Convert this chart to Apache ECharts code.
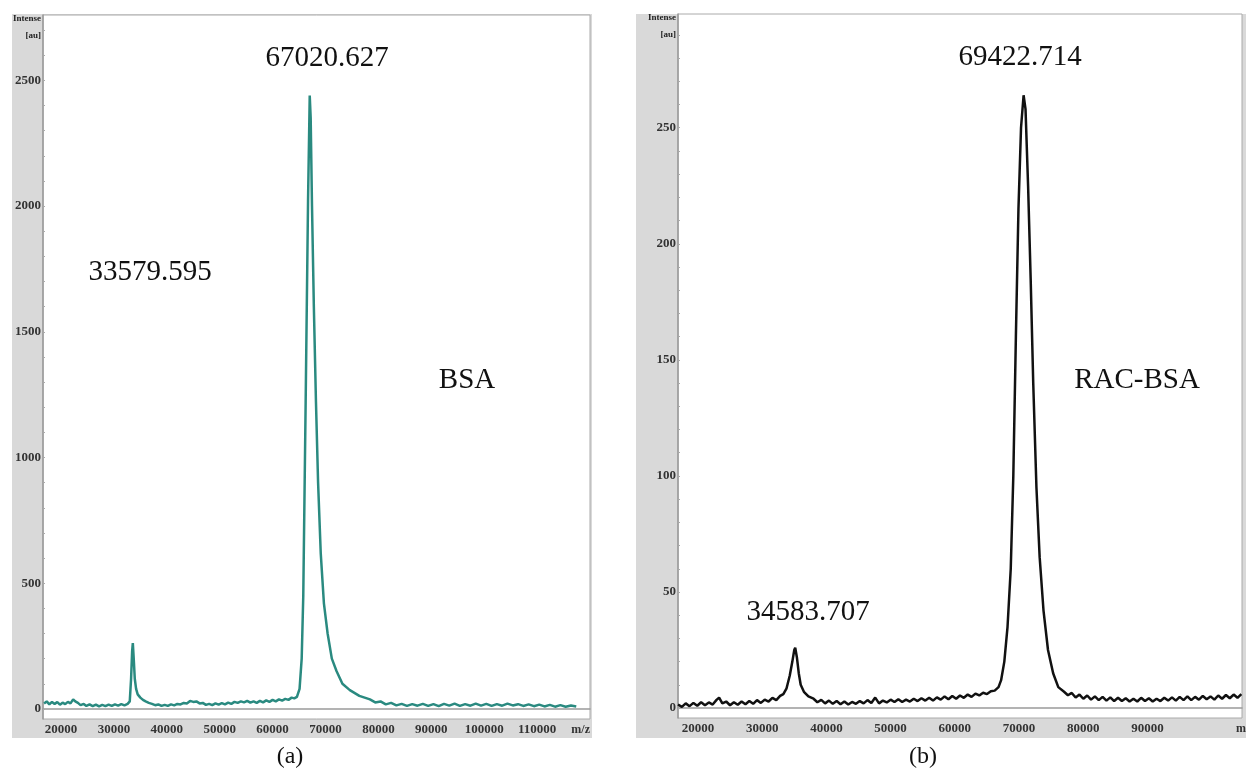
<!DOCTYPE html>
<html>
<head>
<meta charset="utf-8">
<script src="https://cdn.jsdelivr.net/npm/echarts@6/dist/echarts.min.js"></script>
<style>
  html, body { margin: 0; padding: 0; background: #fff; }
  #main { width: 1246px; height: 775px; }
</style>
</head>
<body>
<div id="main"></div>
<script>
// (a) BSA spectrum, m/z and intensity [au]
var bsaMz = [16800, 17300, 17800, 18300, 18800, 19300, 19800, 20300, 20800, 21300, 21800, 22300, 22700, 23200, 23700,
  24300, 24800, 25400, 26000, 26600, 27200, 27800, 28400, 29000, 29600, 30200, 30800, 31400, 32000, 32600,
  33000, 33250, 33450, 33580, 33750, 33950, 34200, 34500, 35000, 35500, 36000, 36600, 37200, 37800, 38400,
  39000, 39600, 40200, 40800, 41400, 42000, 42600, 43200, 43800, 44400, 45000, 45600, 46200, 46800, 47400,
  48000, 48600, 49200, 49800, 50400, 51000, 51600, 52200, 52800, 53400, 54000, 54600, 55200, 55800, 56400,
  57000, 57600, 58200, 58800, 59400, 60000, 60600, 61200, 61800, 62400, 63000, 63600, 64100, 64600, 65100,
  65500, 65800, 66250, 66700, 67020, 67200, 67450, 67800, 68200, 68600, 69100, 69700, 70400, 71200, 72100,
  73200, 74600, 76400, 78400, 79400, 80400, 81400, 82400, 83400, 84400, 85400, 86400, 87400, 88400, 89400,
  90400, 91400, 92400, 93400, 94400, 95400, 96400, 97400, 98400, 99400, 100400, 101400, 102400, 103400, 104400,
  105400, 106400, 107400, 108400, 109400, 110400, 111400, 112400, 113400, 114400, 115400, 116400, 117400];
var bsaInt = [22, 30, 18, 28, 20, 27, 17, 25, 19, 28, 22, 38, 30, 24, 15,
  20, 12, 18, 11, 17, 10, 16, 11, 17, 12, 18, 13, 19, 14, 20,
  30, 120, 230, 262, 200, 120, 80, 58, 45, 36, 30, 24, 20, 15, 18,
  12, 16, 12, 18, 14, 20, 18, 24, 22, 32, 28, 30, 22, 24, 16,
  20, 15, 22, 17, 23, 18, 25, 20, 28, 24, 30, 26, 32, 25, 30,
  24, 32, 26, 34, 28, 36, 30, 38, 33, 40, 36, 45, 42, 48, 80,
  200, 450, 1220, 2020, 2440, 2350, 2000, 1600, 1220, 900, 620, 420, 300, 200, 150,
  100, 75, 52, 38, 26, 30, 18, 24, 14, 20, 12, 19, 13, 20, 12,
  19, 11, 20, 13, 21, 12, 19, 13, 21, 13, 20, 12, 19, 13, 21,
  14, 19, 12, 18, 11, 17, 10, 16, 9, 15, 9, 14, 10];

// (b) RAC-BSA spectrum
var racMz = [16900, 17500, 18100, 18700, 19300, 19900, 20500, 21100, 21700, 22300, 22900, 23300, 23800, 24400, 25000,
  25600, 26200, 26800, 27400, 28000, 28600, 29200, 29800, 30400, 31000, 31600, 32200, 32800, 33300, 33800,
  34300, 34700, 35000, 35150, 35400, 35700, 36000, 36500, 37200, 38000, 38600, 39200, 39800, 40400, 41000,
  41600, 42200, 42800, 43400, 44000, 44600, 45200, 45800, 46400, 47000, 47600, 48200, 48800, 49400, 50000,
  50600, 51200, 51800, 52400, 53000, 53600, 54200, 54800, 55400, 56000, 56600, 57200, 57800, 58400, 59000,
  59600, 60200, 60800, 61400, 62000, 62600, 63200, 63800, 64400, 65000, 65600, 66200, 66800, 67200, 67700,
  68200, 68700, 69100, 69500, 69900, 70300, 70700, 71000, 71400, 71800, 72200, 72700, 73200, 73800, 74500,
  75300, 76100, 77000, 77600, 78200, 78800, 79400, 80000, 80600, 81200, 81800, 82400, 83000, 83600, 84200,
  84800, 85400, 86000, 86600, 87200, 87800, 88400, 89000, 89600, 90200, 90800, 91400, 92000, 92600, 93200,
  93800, 94400, 95000, 95600, 96200, 96800, 97400, 98000, 98600, 99200, 99800, 100400, 101000, 101600, 102200,
  102800, 103400, 104000, 104600];
var racInt = [1.5, 0.5, 2, 0.8, 2.2, 1, 2.5, 1.2, 2.4, 1.5, 3.5, 4.5, 2, 2.8, 1.2,
  2.5, 1.4, 2.8, 1.6, 3, 1.8, 3.4, 2.2, 3.6, 2.8, 4.4, 3.4, 5.2, 6, 8.5,
  14, 20, 25, 26, 22, 15, 10, 7, 5, 4, 2.5, 3.5, 2, 3.2, 1.8,
  3, 1.6, 2.8, 1.5, 2.6, 1.8, 3, 2, 3.4, 2.2, 4.5, 2, 3.2, 2.4, 3.6,
  2.6, 3.8, 2.6, 3.6, 2.8, 4, 3, 4.2, 3.2, 4.4, 3.2, 4.6, 3.6, 5, 3.8,
  5.2, 4, 5.4, 4.4, 5.8, 4.8, 6.2, 5.4, 6.6, 6, 7.2, 7.5, 9, 12, 20,
  35, 60, 100, 160, 215, 250, 264, 258, 225, 185, 140, 95, 65, 42, 25,
  15, 9, 7, 5.5, 6.5, 4.5, 5.8, 4, 5.4, 3.6, 5, 3.4, 4.8, 3.2, 4.6,
  3, 4.4, 3, 4.2, 2.8, 4, 2.8, 4.4, 3, 4.2, 2.8, 4, 3, 4.4, 3.2,
  4.6, 3.2, 4.8, 3.4, 5, 3.4, 4.8, 3.6, 5.2, 3.8, 5, 3.6, 5.4, 4, 5.6,
  4.2, 5.8, 4.4, 6];

// tick labels
var leftXLabels = [20000, 30000, 40000, 50000, 60000, 70000, 80000, 90000, 100000, 110000];
var rightXLabels = [20000, 30000, 40000, 50000, 60000, 70000, 80000, 90000];
var leftYLabels = [0, 500, 1000, 1500, 2000, 2500];
var leftYTicks = [0, 100, 200, 300, 400, 500, 600, 700, 800, 900, 1000, 1100, 1200, 1300, 1400, 1500,
  1600, 1700, 1800, 1900, 2000, 2100, 2200, 2300, 2400, 2500, 2600, 2700];
var rightYLabels = [0, 50, 100, 150, 200, 250];
var rightYTicks = [0, 10, 20, 30, 40, 50, 60, 70, 80, 90, 100, 110, 120, 130, 140, 150, 160, 170, 180, 190,
  200, 210, 220, 230, 240, 250, 260, 270, 280, 290];

function zip(a, b) {
  var out = [];
  for (var i = 0; i < a.length; i++) out.push([a[i], b[i]]);
  return out;
}

var serif = 'Liberation Serif';
var gray = '#d9d9d9';
var axisCol = '#9a9a9a';

function plain(v) { return String(v); }

function xAxisOpt(idx, min, max, labels, nameAlign, nameGap) {
  return {
    type: 'value', gridIndex: idx, min: min, max: max,
    name: 'm/z', nameLocation: 'end', nameGap: nameGap,
    nameTextStyle: { fontFamily: serif, fontSize: 12, fontWeight: 'bold', color: '#333',
      align: nameAlign, verticalAlign: 'top', padding: [15, 0, 0, 0] },
    splitLine: { show: false },
    axisLine: { lineStyle: { color: axisCol, width: 1.5 } },
    axisTick: { show: false },
    axisLabel: { customValues: labels, formatter: plain, margin: 4, fontFamily: serif, fontSize: 13, fontWeight: 'bold', color: '#333' }
  };
}

function yAxisOpt(idx, min, max, labels, ticks) {
  return {
    type: 'value', gridIndex: idx, min: min, max: max,
    name: 'Intense\n[au]', nameLocation: 'end', nameGap: 5,
    nameTextStyle: { fontFamily: serif, fontSize: 9, fontWeight: 'bold', color: '#222',
      align: 'right', verticalAlign: 'top', padding: [0, 2, 0, 0], lineHeight: 17 },
    splitLine: { show: false },
    axisLine: { lineStyle: { color: axisCol, width: 1.5 } },
    axisTick: { show: true, customValues: ticks, inside: true, length: 2, lineStyle: { color: '#aaa' } },
    axisLabel: { customValues: labels, formatter: plain, margin: 2, fontFamily: serif, fontSize: 13, fontWeight: 'bold', color: '#333' }
  };
}

function note(text, x, y, size) {
  return { type: 'text', x: x, y: y, z: 10,
    style: { text: text, fill: '#111', font: size + 'px "Liberation Serif"', textAlign: 'center', textVerticalAlign: 'middle' } };
}

var chart = echarts.init(document.getElementById('main'));

var option = {
  backgroundColor: '#fff',
  animation: false,
  graphic: [
    { type: 'rect', z: -10, shape: { x: 12, y: 14, width: 580, height: 724 }, style: { fill: gray } },
    { type: 'rect', z: -10, shape: { x: 636, y: 14, width: 610, height: 724 }, style: { fill: gray } },
    note('67020.627', 327, 58, 29),
    note('33579.595', 150, 272, 29),
    note('BSA', 467, 380, 29),
    note('(a)', 290, 757, 24),
    note('69422.714', 1020, 57, 29),
    note('34583.707', 808, 612, 29),
    note('RAC-BSA', 1137, 380, 29),
    note('(b)', 923, 757, 24)
  ],
  grid: [
    { left: 43, top: 15, width: 547, height: 704, outerBoundsMode: 'none',
      show: true, backgroundColor: '#fff', borderColor: '#aaa', borderWidth: 1 },
    { left: 678, top: 14, width: 564, height: 704, outerBoundsMode: 'none',
      show: true, backgroundColor: '#fff', borderColor: '#aaa', borderWidth: 1 }
  ],
  xAxis: [
    xAxisOpt(0, 16600, 120000, leftXLabels, 'right', 0),
    xAxisOpt(1, 16900, 104700, rightXLabels, 'left', -6)
  ],
  yAxis: [
    yAxisOpt(0, -40, 2760, leftYLabels, leftYTicks),
    yAxisOpt(1, -4.3, 299, rightYLabels, rightYTicks)
  ],
  series: [
    { type: 'line', xAxisIndex: 0, yAxisIndex: 0, data: zip(bsaMz, bsaInt), showSymbol: false,
      lineStyle: { color: '#2a8a80', width: 2.5 }, itemStyle: { color: '#2a8a80' } },
    { type: 'line', xAxisIndex: 1, yAxisIndex: 1, data: zip(racMz, racInt), showSymbol: false,
      lineStyle: { color: '#111', width: 2.5 }, itemStyle: { color: '#111' } }
  ]
};

chart.setOption(option);
</script>
</body>
</html>
